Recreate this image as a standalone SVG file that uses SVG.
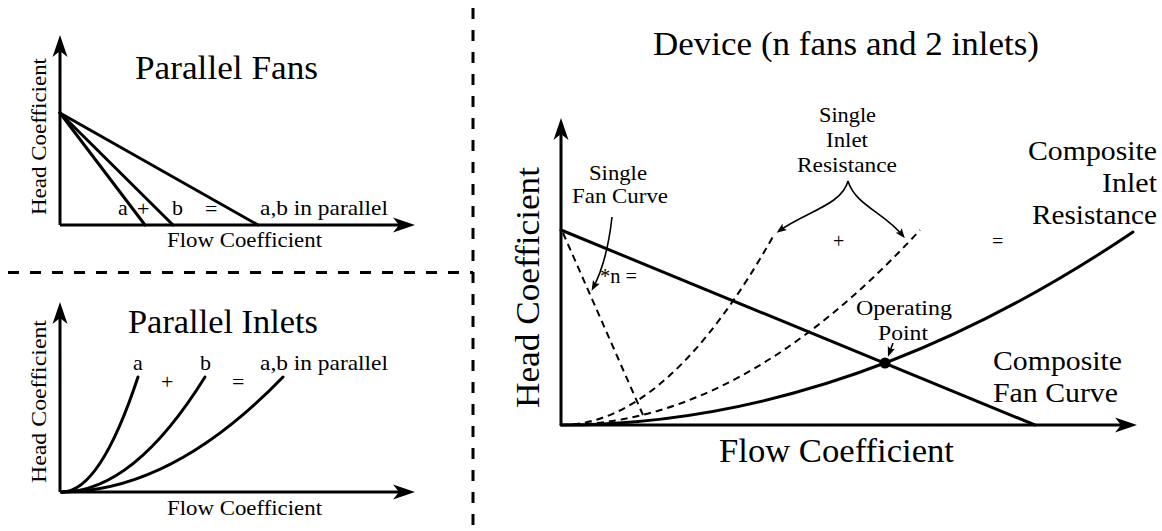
<svg xmlns="http://www.w3.org/2000/svg" width="1162" height="531" viewBox="0 0 1162 531">
<style>
  text { font-family: "Liberation Serif", "Times New Roman", serif; fill: #000; }
  .t33 { font-size: 33px; }
  .t28 { font-size: 28px; }
  .t22 { font-size: 22px; }
  .t20 { font-size: 20px; }
  .axis { stroke: #000; stroke-width: 3; fill: none; }
  .solid { stroke: #000; stroke-width: 3; fill: none; stroke-linecap: round; }
  .dash { stroke: #000; stroke-width: 2; fill: none; stroke-dasharray: 7 5; }
  .sep { stroke: #000; stroke-width: 3; fill: none; stroke-dasharray: 11 11; }
  .lead { stroke: #000; stroke-width: 1.6; fill: none; }
</style>
<defs>
  <marker id="ax" viewBox="-24 -9 25 18" refX="-10" refY="0" markerWidth="25" markerHeight="18" markerUnits="userSpaceOnUse" orient="auto">
    <path d="M0,0 L-22,-7.5 L-16,0 L-22,7.5 Z" fill="#000"/>
  </marker>
  <marker id="sm" viewBox="-11 -5 12 10" refX="-3" refY="0" markerWidth="12" markerHeight="10" markerUnits="userSpaceOnUse" orient="auto">
    <path d="M0,0 L-10,-3.8 L-8,0 L-10,3.8 Z" fill="#000"/>
  </marker>
</defs>

<g id="separators">
  <line class="sep" x1="473" y1="8" x2="473" y2="531"/>
  <line class="sep" x1="8" y1="272.5" x2="473" y2="272.5"/>
</g>

<g id="panel-parallel-fans">
  <line class="axis" x1="60" y1="225" x2="60" y2="45" marker-end="url(#ax)"/>
  <line class="axis" x1="60" y1="225" x2="405" y2="225" marker-end="url(#ax)"/>
  <line class="solid" x1="60" y1="113" x2="145" y2="225"/>
  <line class="solid" x1="60" y1="113" x2="173" y2="225"/>
  <line class="solid" x1="60" y1="113" x2="258" y2="225"/>
  <text class="t33" x="135" y="79" textLength="183" lengthAdjust="spacingAndGlyphs">Parallel Fans</text>
  <text class="t22" transform="translate(46,215) rotate(-90)" textLength="157" lengthAdjust="spacingAndGlyphs">Head Coefficient</text>
  <text class="t22" x="167" y="247" textLength="155" lengthAdjust="spacingAndGlyphs">Flow Coefficient</text>
  <text class="t22" x="118" y="215">a</text>
  <text class="t22" x="137" y="216">+</text>
  <text class="t22" x="172" y="215">b</text>
  <text class="t22" x="205" y="216">=</text>
  <text class="t22" x="260" y="215" textLength="128" lengthAdjust="spacingAndGlyphs">a,b in parallel</text>
</g>

<g id="panel-parallel-inlets">
  <line class="axis" x1="60" y1="492" x2="60" y2="312" marker-end="url(#ax)"/>
  <line class="axis" x1="60" y1="492" x2="405" y2="492" marker-end="url(#ax)"/>
  <path class="solid" d="M62,492 Q100,492 138,377"/>
  <path class="solid" d="M62,492 Q133.5,492 205,377"/>
  <path class="solid" d="M62,492 Q172,492 283,377"/>
  <text class="t33" x="128" y="333" textLength="190" lengthAdjust="spacingAndGlyphs">Parallel Inlets</text>
  <text class="t22" transform="translate(46,483) rotate(-90)" textLength="163" lengthAdjust="spacingAndGlyphs">Head Coefficient</text>
  <text class="t22" x="167" y="515" textLength="155" lengthAdjust="spacingAndGlyphs">Flow Coefficient</text>
  <text class="t22" x="133" y="370">a</text>
  <text class="t22" x="161" y="389">+</text>
  <text class="t22" x="200" y="370">b</text>
  <text class="t22" x="232" y="389">=</text>
  <text class="t22" x="260" y="370" textLength="128" lengthAdjust="spacingAndGlyphs">a,b in parallel</text>
</g>

<g id="panel-device">
  <line class="axis" x1="561" y1="425" x2="561" y2="128" marker-end="url(#ax)"/>
  <line class="axis" x1="561" y1="425" x2="1127" y2="425" marker-end="url(#ax)"/>
  <text class="t33" x="653" y="55" textLength="386" lengthAdjust="spacingAndGlyphs">Device (n fans and 2 inlets)</text>
  <text class="t33" transform="translate(539,408) rotate(-90)" textLength="241" lengthAdjust="spacingAndGlyphs">Head Coefficient</text>
  <text class="t33" x="719" y="462" textLength="235" lengthAdjust="spacingAndGlyphs">Flow Coefficient</text>
</g>

<g id="single-fan-curve">
  <path class="dash" d="M563,233 L643,415"/>
  <text class="t22" x="589" y="180" textLength="58" lengthAdjust="spacingAndGlyphs">Single</text>
  <text class="t22" x="572" y="203" textLength="96" lengthAdjust="spacingAndGlyphs">Fan Curve</text>
  <text class="t20" x="600" y="283" textLength="37" lengthAdjust="spacingAndGlyphs">*n =</text>
</g>

<g id="single-inlet-resistance">
  <path class="dash" d="M561,425 Q668,425 775,233"/>
  <path class="dash" d="M561,425 Q740.5,425 920,230"/>
  <text class="t22" x="819" y="122" textLength="57" lengthAdjust="spacingAndGlyphs">Single</text>
  <text class="t22" x="826" y="147" textLength="42" lengthAdjust="spacingAndGlyphs">Inlet</text>
  <text class="t22" x="797" y="172" textLength="100" lengthAdjust="spacingAndGlyphs">Resistance</text>
  <text class="t20" x="833" y="248">+</text>
  <text class="t20" x="992" y="248">=</text>
</g>

<g id="composite-inlet-resistance">
  <path class="solid" d="M561,425 Q847,425 1133,232"/>
  <text class="t28" x="1028" y="160" textLength="129" lengthAdjust="spacingAndGlyphs">Composite</text>
  <text class="t28" x="1102" y="192" textLength="55" lengthAdjust="spacingAndGlyphs">Inlet</text>
  <text class="t28" x="1032" y="224" textLength="125" lengthAdjust="spacingAndGlyphs">Resistance</text>
</g>

<g id="composite-fan-curve">
  <line class="solid" x1="561" y1="230" x2="1035" y2="425"/>
  <text class="t28" x="993" y="370" textLength="129" lengthAdjust="spacingAndGlyphs">Composite</text>
  <text class="t28" x="993" y="402" textLength="125" lengthAdjust="spacingAndGlyphs">Fan Curve</text>
</g>

<g id="operating-point">
  <circle cx="885" cy="363" r="5.5" fill="#000"/>
  <text class="t22" x="856" y="315" textLength="96" lengthAdjust="spacingAndGlyphs">Operating</text>
  <text class="t22" x="878" y="340" textLength="50" lengthAdjust="spacingAndGlyphs">Point</text>
</g>

<g id="connectors">
  <path class="lead" d="M612,217 Q607,262 593,288" marker-end="url(#sm)"/>
  <path class="lead" d="M848,181 C842,205 805,212 779,231" marker-end="url(#sm)"/>
  <path class="lead" d="M848,181 C855,205 885,213 903,236" marker-end="url(#sm)"/>
  <path class="lead" d="M893,343 L889,354" marker-end="url(#sm)"/>
</g>
</svg>
